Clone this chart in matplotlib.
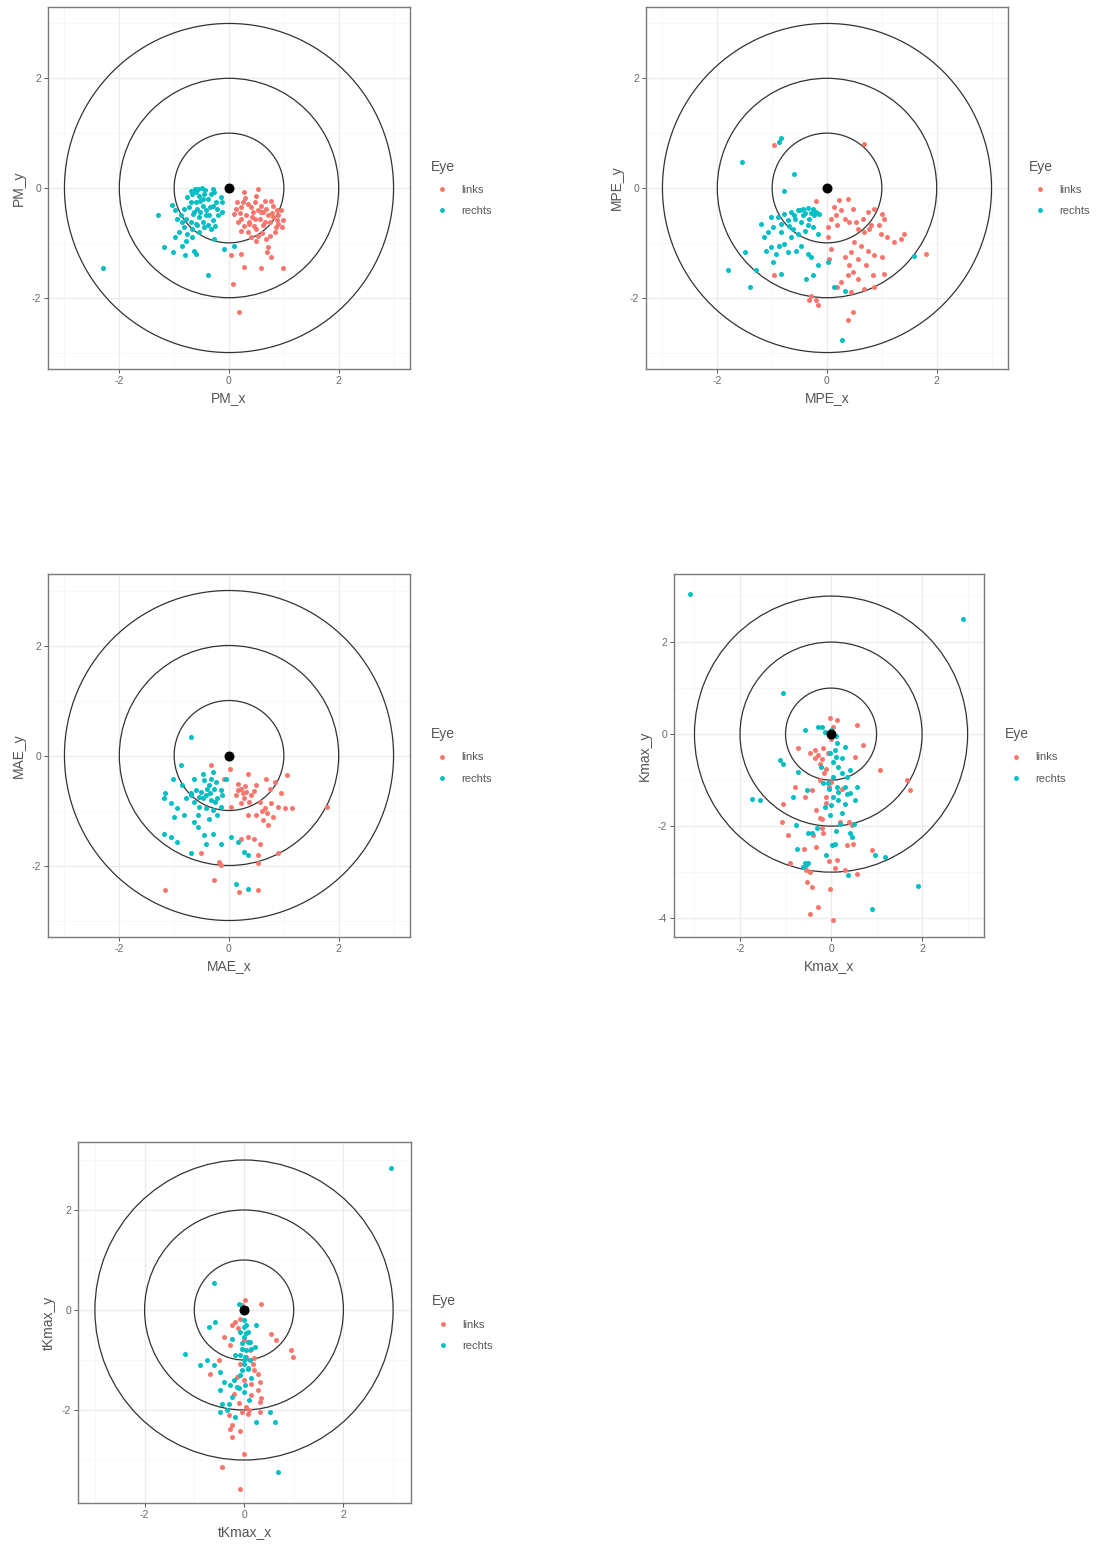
import matplotlib
matplotlib.use("Agg")
import matplotlib.pyplot as plt
from matplotlib.patches import Circle
from matplotlib.lines import Line2D
import numpy as np

plt.rcParams["font.family"] = ["Liberation Sans", "DejaVu Sans"]
plt.rcParams["axes.unicode_minus"] = False

W, H = 1101, 1549
RED = "#F8766D"
CYAN = "#00BFC4"

eyes = ["links", "rechts"]
rings = [1, 2, 3]

# --- data: (x, y) pairs per measure and eye ---
pm_links = [
    (0.28, -0.08), (0.53, -0.01), (0.77, -0.23), (0.87, -0.41), (0.99, -0.59), (0.96, -0.72),
    (0.10, -0.47), (0.22, -0.35), (0.34, -0.29), (0.47, -0.26), (0.59, -0.32), (0.68, -0.38),
    (0.16, -0.62), (0.22, -0.78), (0.34, -0.81), (0.50, -0.75), (0.62, -0.68), (0.74, -0.62),
    (0.80, -0.53), (0.71, -0.50), (0.56, -0.56), (0.44, -0.44), (0.31, -0.50), (0.22, -0.56),
    (0.53, -0.87), (0.68, -0.93), (0.83, -0.81), (0.90, -0.65), (0.40, -0.35), (0.65, -0.23),
    (0.50, -0.14), (0.71, -1.08), (0.70, -1.17), (0.77, -1.26), (0.22, -1.20), (0.04, -1.23),
    (0.28, -1.44), (0.59, -1.46), (0.99, -1.46), (0.07, -1.75), (0.19, -2.26), (0.50, -0.96),
    (0.13, -0.38), (0.80, -0.32), (0.59, -0.44), (0.37, -0.65), (0.47, -0.56), (0.90, -0.50),
    (0.25, -0.26), (0.36, -0.62), (0.62, -0.44), (0.85, -0.72), (0.45, -0.70), (0.30, -0.18),
    (0.75, -0.88), (0.95, -0.40), (0.20, -0.45), (0.42, -0.52), (0.66, -0.62), (0.52, -0.40),
    (0.78, -0.46), (0.27, -0.70), (0.61, -0.82), (0.88, -0.58), (0.15, -0.25), (0.40, -0.90),
]
pm_rechts = [
    (-2.30, -1.45), (-1.30, -0.49), (-1.04, -0.31), (-0.98, -0.41), (-0.88, -0.50), (-0.79, -0.56),
    (-0.76, -0.17), (-0.70, -0.26), (-0.67, -0.11), (-0.61, -0.08), (-0.55, -0.14), (-0.52, -0.23),
    (-0.45, -0.11), (-0.39, -0.20), (-0.33, -0.11), (-0.27, -0.08), (-0.24, -0.26), (-0.48, -0.32),
    (-0.58, -0.38), (-0.64, -0.44), (-0.42, -0.41), (-0.36, -0.50), (-0.55, -0.53), (-0.70, -0.62),
    (-0.61, -0.65), (-0.48, -0.62), (-0.39, -0.68), (-0.33, -0.75), (-0.82, -0.72), (-0.91, -0.81),
    (-0.98, -0.90), (-0.76, -0.84), (-0.67, -0.90), (-0.79, -0.96), (-0.85, -1.05), (-1.19, -1.08),
    (-1.02, -1.17), (-0.80, -1.22), (-0.61, -1.20), (-0.64, -1.14), (-0.39, -1.58), (-0.12, -0.26),
    (-0.12, -0.44), (-0.27, -0.93), (-0.09, -1.11), (0.09, -1.06), (-0.94, -0.56), (-0.85, -0.62),
    (-0.21, -0.38), (-0.30, -0.32), (-0.15, -0.17), (-0.42, -0.50), (-0.52, -0.44), (-0.73, -0.35),
    (-0.82, -0.38), (-0.61, -0.26), (-0.48, -0.20), (-0.57, -0.02), (-0.43, -0.03), (-0.30, -0.02),
    (-0.66, -0.48), (-0.45, -0.72), (-0.55, -0.80), (-0.30, -0.58), (-0.20, -0.50), (-0.62, -0.02),
    (-0.70, -0.05), (-0.50, 0.00), (-0.35, -0.35), (-0.58, -0.68), (-0.68, -0.75), (-0.25, -0.70),
]

mpe_links = [
    (0.68, 0.80), (-0.96, 0.78), (-0.20, -0.23), (0.22, -0.21), (0.38, -0.20), (0.13, -0.35),
    (0.25, -0.41), (0.16, -0.50), (0.07, -0.56), (0.32, -0.56), (0.01, -0.72), (0.19, -0.68),
    (0.41, -0.62), (0.56, -0.75), (0.65, -0.56), (0.74, -0.44), (0.86, -0.38), (1.01, -0.47),
    (1.04, -0.56), (0.95, -0.68), (0.80, -0.68), (0.68, -0.81), (0.98, -0.84), (1.10, -0.90),
    (1.22, -0.99), (1.35, -0.93), (1.41, -0.84), (0.50, -0.99), (0.62, -1.05), (0.74, -1.14),
    (0.86, -1.23), (1.01, -1.26), (0.44, -1.17), (0.32, -1.26), (0.56, -1.29), (0.41, -1.41),
    (0.47, -1.53), (0.38, -1.59), (0.56, -1.65), (0.83, -1.59), (1.04, -1.56), (0.71, -1.41),
    (0.25, -1.72), (0.19, -1.81), (0.44, -1.90), (0.68, -1.84), (0.86, -1.81), (-0.29, -1.96),
    (-0.20, -2.05), (-0.17, -2.14), (-0.32, -2.05), (0.47, -2.26), (0.38, -2.41), (0.07, -1.11),
    (-0.96, -1.59), (0.04, -1.29), (1.80, -1.20), (0.53, -0.62), (0.47, -0.38), (0.77, -0.75),
    (0.01, -0.90),
]
mpe_rechts = [
    (-0.84, 0.92), (-0.87, 0.84), (-1.55, 0.47), (-0.61, 0.25), (-0.79, -0.05), (-0.65, -0.44),
    (-0.53, -0.41), (-0.44, -0.38), (-0.35, -0.37), (-0.26, -0.39), (-0.20, -0.44), (-0.14, -0.47),
    (-0.23, -0.50), (-0.78, -0.47), (-0.90, -0.53), (-1.02, -0.53), (-1.20, -0.65), (-1.08, -0.81),
    (-0.99, -0.72), (-0.84, -0.65), (-0.72, -0.59), (-0.59, -0.56), (-0.47, -0.62), (-0.35, -0.68),
    (-0.26, -0.72), (-0.17, -0.84), (-0.41, -0.78), (-0.53, -0.84), (-0.65, -0.90), (-0.78, -1.02),
    (-0.87, -1.05), (-1.02, -1.08), (-1.11, -1.14), (-0.93, -1.20), (-0.72, -1.17), (-0.56, -1.14),
    (-0.47, -1.05), (-0.35, -1.20), (-0.29, -1.26), (-0.17, -1.41), (0.01, -1.35), (-0.99, -1.35),
    (-1.50, -1.17), (-1.29, -1.50), (-1.81, -1.50), (-1.41, -1.81), (-0.84, -1.56), (-0.38, -1.65),
    (-0.26, -1.59), (0.13, -1.81), (0.32, -1.87), (0.28, -2.78), (1.59, -1.24), (-0.84, -0.81),
    (-0.62, -0.75), (-0.44, -0.50), (-0.32, -0.56), (-1.14, -0.90), (-0.50, -0.40), (-0.40, -0.46),
    (-0.30, -0.45), (-0.60, -0.50), (-0.70, -0.70),
]

mae_links = [
    (-0.33, -0.18), (-0.09, -0.42), (0.34, -0.33), (0.68, -0.42), (1.05, -0.36), (0.16, -0.51),
    (0.22, -0.60), (0.31, -0.66), (0.40, -0.72), (0.28, -0.78), (0.13, -0.72), (0.22, -0.87),
    (0.04, -0.93), (0.50, -0.54), (0.74, -0.60), (0.95, -0.69), (0.56, -0.84), (0.65, -0.96),
    (0.77, -0.87), (0.89, -0.93), (1.02, -0.96), (1.14, -0.96), (0.50, -1.08), (0.62, -1.18),
    (0.71, -1.27), (0.80, -1.12), (1.78, -0.93), (0.34, -1.48), (0.46, -1.51), (0.56, -1.60),
    (0.22, -1.51), (0.53, -1.81), (0.89, -1.78), (-0.18, -1.93), (-0.15, -1.99), (-0.51, -1.78),
    (-0.27, -2.27), (-1.16, -2.45), (0.19, -2.48), (0.53, -2.45), (0.53, -1.96), (0.37, -0.84),
    (0.16, -0.63), (0.01, -0.24), (0.25, -0.69), (0.34, -1.08), (0.83, -0.48), (0.30, -0.55),
    (0.45, -0.65), (0.70, -1.05), (0.60, -1.00),
]
mae_rechts = [
    (-0.69, 0.34), (-0.88, -0.18), (-1.03, -0.42), (-0.64, -0.42), (-0.48, -0.33), (-0.45, -0.45),
    (-0.33, -0.42), (-0.24, -0.48), (-0.36, -0.54), (-0.27, -0.60), (-0.15, -0.63), (-0.12, -0.72),
    (-0.21, -0.78), (-0.33, -0.81), (-0.42, -0.72), (-0.51, -0.66), (-0.61, -0.63), (-0.70, -0.69),
    (-0.79, -0.78), (-0.64, -0.84), (-0.54, -0.93), (-0.42, -0.96), (-0.30, -0.99), (-0.15, -0.93),
    (-0.21, -1.08), (-0.36, -1.15), (-0.57, -1.08), (-0.64, -1.21), (-0.82, -1.08), (-0.94, -0.96),
    (-1.06, -0.87), (-1.19, -0.78), (-1.16, -0.69), (-0.85, -0.54), (-1.00, -1.12), (-0.57, -1.30),
    (-0.45, -1.45), (-0.30, -1.42), (-0.15, -1.60), (-0.42, -1.60), (-1.19, -1.42), (-1.06, -1.48),
    (-0.94, -1.57), (-0.70, -1.78), (0.04, -1.48), (0.16, -1.57), (0.28, -1.75), (0.34, -1.81),
    (0.13, -2.33), (0.34, -2.42), (-0.70, -0.72), (-0.48, -0.78), (-0.06, -0.42), (-0.30, -0.30),
    (-0.40, -0.60), (-0.55, -0.75), (-0.35, -0.68), (-0.25, -0.85),
]

kmax_links = [
    (-0.02, 0.34), (0.12, 0.30), (0.56, 0.20), (-0.72, -0.31), (-0.46, -0.42), (-0.35, -0.53),
    (-0.24, -0.64), (-0.10, -0.75), (-0.17, -0.31), (-0.06, -0.42), (0.71, -0.24), (0.53, -0.49),
    (1.08, -0.78), (1.66, -1.00), (1.74, -1.22), (-0.79, -1.14), (-0.57, -1.36), (-1.05, -1.51),
    (-0.32, -1.65), (-0.24, -1.83), (-1.08, -1.91), (-0.94, -2.20), (-0.17, -2.16), (0.45, -1.98),
    (0.49, -2.38), (-0.32, -2.45), (0.89, -2.52), (-0.90, -2.81), (-0.46, -2.99), (-0.53, -3.21),
    (-0.42, -3.32), (-0.02, -3.36), (0.09, -2.92), (-0.28, -3.75), (-0.46, -3.90), (0.05, -4.04),
    (0.12, -2.74), (-0.24, -1.00), (-0.10, -1.36), (-0.42, -1.22), (0.56, -3.03), (-0.35, -0.35),
    (-0.28, -0.45), (-0.20, -0.55), (-0.15, -0.85), (-0.05, -1.15), (0.00, -1.05), (-0.10, -1.50),
    (-0.20, -1.85), (0.20, -1.90), (-0.40, -2.20), (-0.60, -2.50), (0.35, -2.40), (-0.05, -2.75),
    (0.40, -1.90), (0.00, -0.10), (0.05, 0.15), (0.25, -1.20), (-0.55, -2.95), (0.30, -2.95),
    (-0.20, -2.05),
]
kmax_rechts = [
    (-3.10, 3.05), (2.90, 2.50), (1.90, -3.30), (0.90, -3.80), (-1.05, 0.90), (-0.57, 0.09),
    (-0.28, 0.16), (-0.13, 0.05), (0.12, -0.20), (0.09, -0.35), (0.23, -0.53), (0.31, -0.28),
    (0.05, -0.60), (0.16, -0.71), (0.42, -0.78), (0.34, -0.93), (0.05, -0.93), (-0.06, -1.07),
    (0.12, -1.14), (0.31, -1.14), (0.56, -1.14), (0.05, -1.36), (0.16, -1.43), (0.31, -1.51),
    (-0.13, -1.58), (-0.02, -1.76), (0.23, -1.72), (0.53, -1.43), (-1.12, -0.57), (-1.05, -0.64),
    (-0.72, -0.82), (-1.74, -1.40), (-1.56, -1.43), (-0.84, -1.36), (-0.77, -1.98), (-0.50, -2.16),
    (-0.42, -2.16), (0.42, -2.16), (0.45, -2.23), (0.01, -2.41), (0.09, -2.38), (-0.75, -2.49),
    (-0.10, -2.63), (-0.57, -2.81), (-0.61, -2.88), (0.38, -3.07), (0.97, -2.63), (1.19, -2.67),
    (-0.21, -0.71), (-0.17, -1.07), (-0.53, -1.22), (-0.02, -0.42), (0.42, -1.29), (0.00, 0.10),
    (-0.20, 0.15), (0.10, -0.50), (0.25, -0.85), (0.15, -1.25), (0.00, -1.55), (0.35, -1.30),
    (0.20, -1.95), (0.50, -1.95), (-0.30, -2.05), (-0.55, -2.85), (-0.50, -2.80), (0.10, -0.05),
    (-0.05, -1.20), (0.10, -2.10),
]

tkmax_links = [
    (0.02, 0.20), (0.35, 0.13), (-0.18, -0.23), (-0.08, -0.17), (-0.25, -0.30), (-0.41, -0.53),
    (-0.28, -0.70), (0.55, -0.47), (0.65, -0.60), (0.95, -0.80), (0.99, -0.93), (-0.51, -1.00),
    (-0.68, -1.27), (0.19, -1.07), (0.29, -1.27), (0.32, -1.43), (0.29, -1.60), (0.32, -1.83),
    (0.05, -1.93), (0.09, -2.07), (-0.05, -2.03), (-0.28, -2.37), (-0.25, -2.53), (-0.08, -2.41),
    (-0.01, -2.87), (-0.45, -3.13), (-0.08, -3.57), (0.12, -0.80), (0.05, -0.93), (-0.08, -1.07),
    (-0.15, -1.33), (0.15, -1.47), (-0.21, -1.67), (0.32, -2.03), (-0.05, 0.10), (0.05, 0.05),
    (-0.12, -0.35), (0.00, -0.60), (0.20, -1.20), (0.20, -0.95), (0.15, -1.70), (-0.10, -1.85),
    (0.35, -1.75), (0.10, -2.00), (-0.30, -2.10), (0.00, -1.40), (-0.25, -2.30),
]
tkmax_rechts = [
    (2.95, 2.85), (0.69, -3.23), (-0.61, 0.55), (-0.11, 0.13), (-0.05, 0.07), (-0.58, -0.23),
    (-0.71, -0.33), (0.25, -0.30), (-0.01, -0.33), (0.09, -0.43), (-0.01, -0.53), (0.12, -0.63),
    (0.22, -0.73), (-0.05, -0.77), (-0.08, -0.90), (0.02, -0.93), (0.12, -1.00), (-0.01, -1.07),
    (-0.05, -1.20), (-1.18, -0.87), (-0.88, -1.10), (-0.48, -1.23), (-0.41, -1.43), (-0.28, -1.50),
    (-0.15, -1.53), (0.02, -1.50), (-0.01, -1.63), (-0.25, -1.73), (-0.45, -1.87), (-0.31, -1.87),
    (-0.48, -2.03), (-0.18, -2.13), (0.25, -2.23), (0.52, -2.03), (0.62, -2.23), (0.09, -0.63),
    (-0.09, -0.43), (-0.25, -0.57), (0.15, -0.77), (-0.18, -0.90), (0.09, -1.17), (-0.48, -1.60),
    (0.00, -0.20), (0.05, -0.30), (-0.05, -0.65), (0.05, -0.80), (0.00, -1.00), (0.08, -1.15),
    (-0.08, -1.30), (0.15, -1.35), (-0.20, -1.40), (-0.10, -1.55), (0.10, -1.80), (-0.35, -2.00),
    (0.05, -0.45), (-0.60, -1.10), (-0.75, -1.00),
]

# panel layout in pixels: (left, top, right, bottom), limits, ticks
panels = [
    ("PM", pm_links, pm_rechts, (48, 7, 410, 369), (-3.3, 3.3), (-3.3, 3.3), [-2, 0, 2]),
    ("MPE", mpe_links, mpe_rechts, (646, 7, 1008, 369), (-3.3, 3.3), (-3.3, 3.3), [-2, 0, 2]),
    ("MAE", mae_links, mae_rechts, (48, 574, 410, 937), (-3.3, 3.3), (-3.3, 3.3), [-2, 0, 2]),
    ("Kmax", kmax_links, kmax_rechts, (674, 574, 984, 937), (-3.45, 3.36), (-4.41, 3.48), [-4, -2, 0, 2]),
    ("tKmax", tkmax_links, tkmax_rechts, (78, 1142, 411, 1503), (-3.34, 3.36), (-3.86, 3.36), [-2, 0, 2]),
]

fig = plt.figure(figsize=(W / 100, H / 100), dpi=100)
fig.patch.set_facecolor("white")

for name, links, rechts, (l, t, r, b), xlim, ylim, yticks in panels:
    ax = fig.add_axes([l / W, 1 - b / H, (r - l) / W, (b - t) / H])
    ax.set_xlim(*xlim)
    ax.set_ylim(*ylim)

    # ggplot theme_bw style grid
    ax.set_xticks([-2, 0, 2])
    ax.set_yticks(yticks)
    ax.set_xticks([-3, -1, 1, 3], minor=True)
    ax.set_yticks([-3, -1, 1, 3], minor=True)
    ax.grid(True, which="major", color="#EBEBEB", linewidth=0.9)
    ax.grid(True, which="minor", color="#F4F4F4", linewidth=0.5)
    ax.set_axisbelow(True)
    ax.tick_params(which="minor", length=0)
    ax.tick_params(which="major", length=3, width=0.7, color="#555555",
                   labelsize=7.5, labelcolor="#6a6a6a", pad=2)
    for sp in ax.spines.values():
        sp.set_color("#7a7a7a")
        sp.set_linewidth(1.0)

    for rad in rings:
        ax.add_patch(Circle((0, 0), rad, fill=False, edgecolor="#333333", linewidth=0.9, zorder=2))

    lx, ly = np.array(links).T
    rx, ry = np.array(rechts).T
    ax.scatter(lx, ly, s=13, color=RED, linewidths=0, zorder=3)
    ax.scatter(rx, ry, s=13, color=CYAN, linewidths=0, zorder=3)
    ax.scatter([0], [0], s=38, color="black", zorder=4)

    ax.set_xlabel(name + "_x", fontsize=10, color="#555555", labelpad=4)
    ax.set_ylabel(name + "_y", fontsize=10, color="#555555", labelpad=4)

    handles = [Line2D([], [], marker="o", linestyle="", markersize=3.5,
                      markerfacecolor=c, markeredgewidth=0) for c in (RED, CYAN)]
    leg = ax.legend(handles, eyes, title="Eye", loc="center left",
                    bbox_to_anchor=(1 + 15 / (r - l), 0.5), frameon=False,
                    fontsize=8, title_fontsize=10, handlelength=2.0,
                    handletextpad=0.8, labelspacing=1.0, borderpad=0,
                    alignment="left")
    for txt in leg.get_texts():
        txt.set_color("#555555")
    leg.get_title().set_color("#555555")

fig.savefig("out.png", dpi=100, facecolor="white")
